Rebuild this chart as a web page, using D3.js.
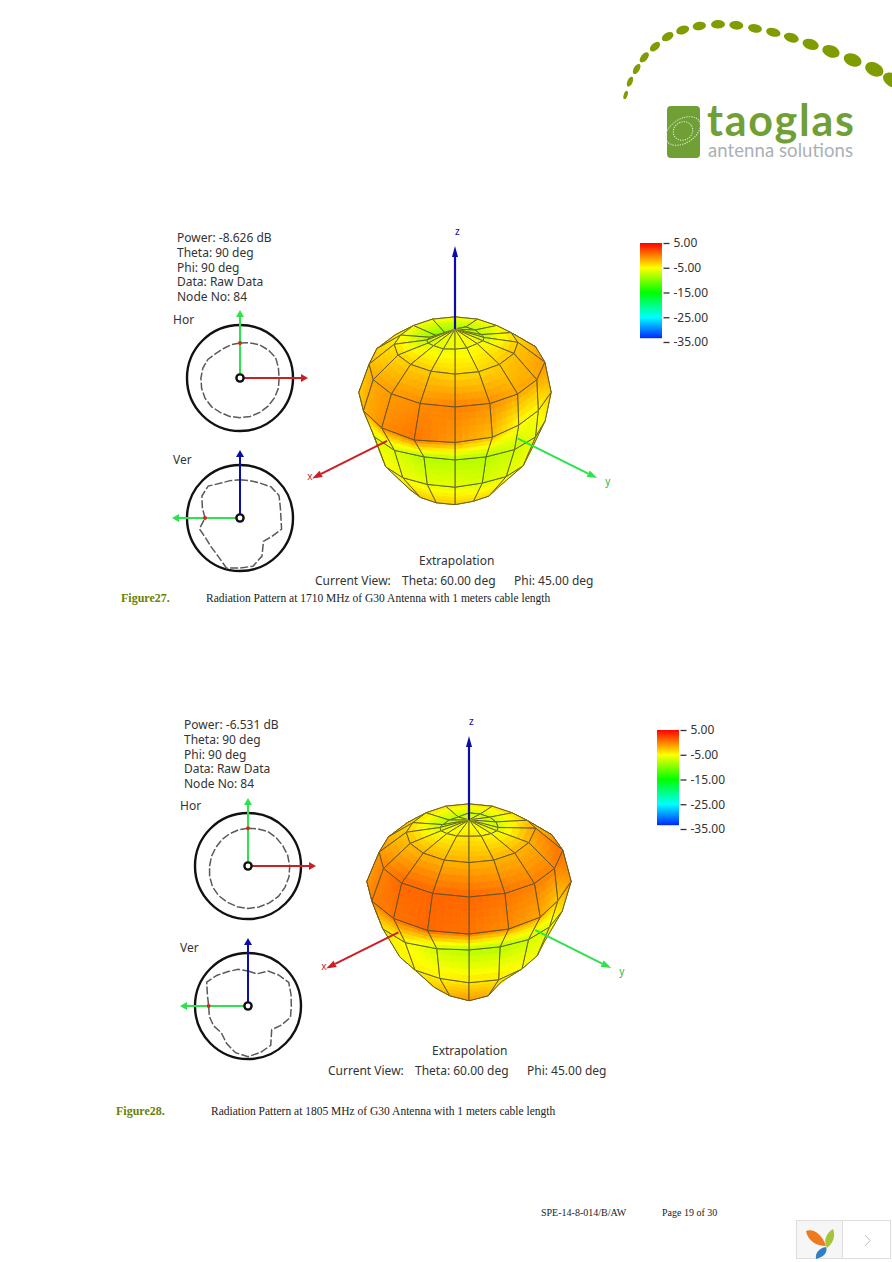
<!DOCTYPE html>
<html><head><meta charset="utf-8">
<script src="https://cdn.jsdelivr.net/npm/d3@7/dist/d3.min.js"></script>
<style>html,body{margin:0;padding:0;background:#fff}svg{display:block}</style>
</head><body><svg id="c" width="892" height="1262"></svg>
<script>
// ---------- data ----------
const colorStops = [-35,-25,-15,-5,5];
const colorRamp = ["#0000ff","#00ffff","#00ff00","#ffff00","#ff0000"];
const legendTicks = [5,-5,-15,-25,-35];
const thetaRings = [0,20,40,60,80,100,125,150,180];
const phiNodes = [0,22.5,45,67.5,90,112.5,135,157.5,180,202.5,225,247.5,270,292.5,315,337.5];
const polarAngles = [0,15,30,45,60,75,90,105,120,135,150,165,180,195,210,225,240,255,270,285,300,315,330,345];

const fig27Gain = [
 [-5.5,-5.5,-5.5,-5.5,-5.5,-5.5,-5.5,-5.5,-5.5,-5.5,-5.5,-5.5,-5.5,-5.5,-5.5,-5.5],
 [-6,-6,-5.5,-5.5,-5,-6,-7,-8,-8,-8,-9,-10,-10,-9,-8,-7],
 [-3,-3,-3.5,-3.5,-3,-2.5,-3,-4,-5,-5,-5,-5,-5,-5,-4,-3.5],
 [-1,-0.5,0,-0.5,-1.5,-1.5,-1,-2,-3,-3,-3,-3,-3,-3,-2.5,-1.5],
 [-0.5,0.5,-1,-2.5,-5,-5,-3,-3,-3,-3,-3,-3,-3,-3,-3,-2],
 [-6.5,-8,-8,-8,-7,-6,-5,-5,-5,-5,-5,-5,-5,-5,-6,-6],
 [-5.5,-6,-6,-6.5,-6,-5.5,-5,-5,-5,-5,-5,-5,-5,-5,-5,-5],
 [-3,-3,-3,-3.5,-3.5,-4,-4,-4,-4,-4,-4,-4,-4,-4,-3.5,-3],
 [-5,-5,-5,-5,-5,-5,-5,-5,-5,-5,-5,-5,-5,-5,-5,-5]
];
const fig28Gain = [
 [-5.8,-5.8,-5.8,-5.8,-5.8,-5.8,-5.8,-5.8,-5.8,-5.8,-5.8,-5.8,-5.8,-5.8,-5.8,-5.8],
 [-5,-4.5,-4,-4.5,-5,-6,-7,-7,-7,-7,-7,-8,-8,-8,-7,-6],
 [-2,-2,-2,-2,-2,-2,-1,-3,-4,-4,-4,-4,-4,-4,-3,-2.5],
 [1,1,1,0.5,0,0,0.5,-1,-2,-2,-2,-2,-2,-2,-1,0],
 [0.5,1,0.5,-0.5,-1.5,-3,-1,-2,-2,-2,-2,-2,-2,-2,-1,0],
 [-5,-7,-8,-8,-7,-6,-4,-4,-4,-4,-4,-4,-4,-4,-4,-4],
 [-4.5,-4.5,-4,-4,-5,-5.5,-5,-5,-5,-5,-5,-5,-5,-5,-5,-5],
 [-3,-2,-1,-2,-5,-6,-6,-6,-6,-6,-6,-6,-6,-6,-4,-3.5],
 [-5,-5,-5,-5,-5,-5,-5,-5,-5,-5,-5,-5,-5,-5,-5,-5]
];
const fig27Hor = [-8.6,-7.5,-6,-5,-4,-5,-5.5,-5,-5,-5,-5,-5,-5,-5,-5,-4.5,-4.5,-5,-5.5,-6,-7,-9,-9.5,-9];
const fig27Ver = [-6.1,-5.8,-4.6,-1.8,-1,-3.5,-4.1,-2.5,-7.2,-10,-1.8,2.7,2.7,4.2,-1.8,-4.2,-5,-3.3,-8.6,-5.6,-1.8,-1,-4.8,-5.8];
const fig28Hor = [-6.5,-6,-5,-4.8,-4.6,-4,-3.5,-3,-2.8,-2.5,-2.8,-3,-3,-3.2,-3.5,-3.5,-4,-5,-6,-6.5,-7,-7,-7,-6.8];
const fig28Ver = [-8.6,-9.9,-4.6,-2,0.5,-1.4,-2.3,-1.8,-6,-9.7,-0.7,1.3,3.2,1.5,-2.5,-6.5,-5,-4.8,-5.3,-3.3,1,-2.1,-5,-6.3];
const fig27Info = ["Power: -8.626 dB","Theta: 90 deg","Phi: 90 deg","Data: Raw Data","Node No: 84"];
const fig28Info = ["Power: -6.531 dB","Theta: 90 deg","Phi: 90 deg","Data: Raw Data","Node No: 84"];
const viewTheta = 60, viewPhi = 45;
const logoDots = [[47,285,4,10],[60,245,6,13],[80,207,7,14],[103,172,8,15],[135,140,9,15],[173,110,10,16],[218,90,11,17],[268,78,11,17],[324,73,11,18],[379,76,11,18],[435,85,11,18],[490,97,11,19],[544,113,12,20],[602,133,14,22],[663,154,16,24],[728,180,17,25],[793,208,18,26],[846,240,18,26]];

// ---------- helpers ----------
const svg = d3.select("#c");
const color = d3.scaleLinear().domain(colorStops).range(colorRamp).clamp(true);
const radius3d = d3.scaleLinear().domain([-35,5]).range([0,122]);
const radiusPolar = d3.scaleLinear().domain([-35,5]).range([0,53]);
const rad = d => d*Math.PI/180;
const UI = "'Noto Sans',sans-serif";

function project(thetaDeg, phiDeg, r){
  const t=rad(thetaDeg), p=rad(phiDeg), vt=rad(viewTheta), vp=rad(viewPhi);
  const x=r*Math.sin(t)*Math.cos(p), y=r*Math.sin(t)*Math.sin(p), z=r*Math.cos(t);
  return {
    x: -x*Math.sin(vp)+y*Math.cos(vp),
    y: -(-x*Math.cos(vt)*Math.cos(vp)-y*Math.cos(vt)*Math.sin(vp)+z*Math.sin(vt)),
    d: x*Math.sin(vt)*Math.cos(vp)+y*Math.sin(vt)*Math.sin(vp)+z*Math.cos(vt)
  };
}
function arrow(g,x1,y1,x2,y2,col,w,hl,hw){
  const a=Math.atan2(y2-y1,x2-x1), bx=x2-hl*Math.cos(a), by=y2-hl*Math.sin(a);
  g.append("line").attr("x1",x1).attr("y1",y1).attr("x2",bx).attr("y2",by).attr("stroke",col).attr("stroke-width",w);
  const nx=-Math.sin(a)*hw/2, ny=Math.cos(a)*hw/2;
  g.append("path").attr("d",d3.line()([[x2,y2],[bx+nx,by+ny],[bx-nx,by-ny]])+"Z").attr("fill",col);
}
const RED="#cc1f24", GREEN="#2ee24a", BLUE="#0c0ca8";

function drawMesh(g,gain){
  const n=5, quads=[];
  const P=(i,j)=>project(thetaRings[i],phiNodes[j%16],radius3d(gain[i][j%16]));
  for(let i=0;i<thetaRings.length-1;i++) for(let j=0;j<16;j++){
    const c=[P(i,j),P(i,j+1),P(i+1,j+1),P(i+1,j)];
    const v=[gain[i][j],gain[i][(j+1)%16],gain[i+1][(j+1)%16],gain[i+1][j]];
    quads.push({c,v,d:d3.mean(c,q=>q.d)});
  }
  quads.sort((a,b)=>a.d-b.d);
  const bil=(a,b,c,d,u,w)=>(a*(1-u)+b*u)*(1-w)+(d*(1-u)+c*u)*w;
  quads.forEach(q=>{
    const qg=g.append("g"), [a,b,c,d]=q.c, cells=[];
    for(let k=0;k<n;k++) for(let l=0;l<n;l++){
      const pt=(u,w)=>[bil(a.x,b.x,c.x,d.x,u,w),bil(a.y,b.y,c.y,d.y,u,w)];
      const val=bil(q.v[0],q.v[1],q.v[2],q.v[3],(k+.5)/n,(l+.5)/n);
      cells.push({p:[pt(k/n,l/n),pt((k+1)/n,l/n),pt((k+1)/n,(l+1)/n),pt(k/n,(l+1)/n)],val});
    }
    qg.selectAll("path").data(cells).join("path")
      .attr("d",e=>d3.line()(e.p)+"Z").attr("fill",e=>color(e.val)).attr("stroke",e=>color(e.val)).attr("stroke-width",.6);
    qg.append("path").attr("d",d3.line()(q.c.map(e=>[e.x,e.y]))+"Z").attr("fill","none").attr("stroke","#55502a").attr("stroke-width",.9);
  });
}
function surfaceR(gain,phi){
  const j=phiNodes.indexOf(phi), i=thetaRings.indexOf(80), k=thetaRings.indexOf(100);
  return radius3d((gain[i][j]+gain[k][j])/2);
}
function drawPolar(g,vals,arms,marker){
  g.append("circle").attr("r",53).attr("fill","#fff").attr("stroke","#111").attr("stroke-width",2.4);
  const line=d3.lineRadial().angle(d=>rad(d.a)).radius(d=>radiusPolar(d.v)).curve(d3.curveLinearClosed);
  g.append("path").attr("d",line(vals.map((v,i)=>({a:polarAngles[i],v})))).attr("fill","none")
    .attr("stroke","#5a5a5a").attr("stroke-width",1.5).attr("stroke-dasharray","8 2.2");
  arms.forEach(a=>arrow(g,a[0]*4,a[1]*4,a[0]*68,a[1]*68,a[2],2,7,8));
  g.append("circle").attr("cx",marker[0]).attr("cy",marker[1]).attr("r",2).attr("fill","#d22");
  g.append("circle").attr("r",3.6).attr("fill","#fff").attr("stroke","#111").attr("stroke-width",2.4);
}
function panel(o){
  const t=svg.append("g").attr("font-family",UI).attr("font-size",12).attr("fill","#333");
  t.selectAll("text.i").data(o.info).join("text").attr("class","i")
    .attr("x",o.tx).attr("y",(d,i)=>o.ty+i*14.75).text(d=>d);
  t.append("text").attr("x",o.tx-4).attr("y",o.hy).text("Hor");
  t.append("text").attr("x",o.tx-4).attr("y",o.vy).text("Ver");
  drawPolar(svg.append("g").attr("transform",`translate(${o.px},${o.hcy})`),o.hor,[[0,-1,GREEN],[1,0,RED]],[0,-radiusPolar(o.hor[0])]);
  drawPolar(svg.append("g").attr("transform",`translate(${o.px},${o.vcy})`),o.ver,[[0,-1,BLUE],[-1,0,GREEN]],[-radiusPolar(o.ver[18]),0]);
  // 3D
  const m=svg.append("g").attr("transform",`translate(${o.cx},${o.cy})`);
  drawMesh(m,o.gain);
  const e=(ph,r)=>project(90,ph,r);
  const xs=e(0,surfaceR(o.gain,0)), xe=e(0,202), ys=e(90,surfaceR(o.gain,90)), ye=e(90,201);
  const zs=project(0,0,radius3d(o.gain[0][0])), ze=project(0,0,186);
  arrow(m,xs.x,xs.y,xe.x,xe.y,RED,2,10,7);
  arrow(m,ys.x,ys.y,ye.x,ye.y,GREEN,2,10,7);
  arrow(m,zs.x,zs.y,ze.x,ze.y,BLUE,2.2,11,6);
  m.append("text").attr("x",xe.x-5).attr("y",xe.y+2).attr("font-family",UI).attr("font-size",10).attr("fill",RED).text("x");
  m.append("text").attr("x",ye.x+8).attr("y",ye.y+7).attr("font-family",UI).attr("font-size",10).attr("fill","#1fb83a").text("y");
  m.append("text").attr("x",ze.x+0).attr("y",ze.y-11).attr("font-family",UI).attr("font-size",10).attr("fill",BLUE).text("z");
  // legend
  const ly=d3.scaleLinear().domain([5,-35]).range([o.ly,o.ly+99]);
  const leg=svg.append("g");
  const rows=d3.range(o.ly,o.ly+95);
  leg.selectAll("rect").data(rows).join("rect").attr("x",o.lx).attr("y",d=>d).attr("width",22).attr("height",1.2)
    .attr("fill",d=>color(ly.invert(d+.5*99/95)*1.0));
  const ax=svg.append("g").attr("transform",`translate(${o.lx+22.5},0)`)
    .call(d3.axisRight(ly).tickValues(legendTicks).tickSize(0).tickPadding(11).tickFormat(d=>d.toFixed(2)));
  ax.select(".domain").remove();
  ax.selectAll("text").attr("font-family",UI).attr("font-size",12).attr("fill","#333");
  ax.selectAll(".tick").append("line").attr("x1",1).attr("x2",7).attr("stroke","#333").attr("stroke-width",1.3);
  // footer texts
  t.append("text").attr("x",o.fx+104).attr("y",o.fy).text("Extrapolation");
  t.append("text").attr("x",o.fx).attr("y",o.fy+20).text("Current View:");
  t.append("text").attr("x",o.fx+87).attr("y",o.fy+20).text("Theta: "+viewTheta.toFixed(2)+" deg");
  t.append("text").attr("x",o.fx+199).attr("y",o.fy+20).text("Phi: "+viewPhi.toFixed(2)+" deg");
  // caption
  const c=svg.append("g").attr("font-family","'Liberation Serif',serif");
  c.append("text").attr("x",o.capx).attr("y",o.capy).attr("font-size",12).attr("font-weight","bold").attr("fill","#6b8200").text(o.fig);
  c.append("text").attr("x",o.capx2).attr("y",o.capy).attr("font-size",11.5).attr("fill","#222").text(o.cap);
}
panel({info:fig27Info,tx:177,ty:242,hy:324,vy:464,px:240,hcy:378,vcy:518,hor:fig27Hor,ver:fig27Ver,cx:455,cy:407,gain:fig27Gain,lx:640,ly:243,fx:315,fy:565,capx:121,capx2:206,capy:602,fig:"Figure27.",cap:"Radiation Pattern at 1710 MHz of G30 Antenna with 1 meters cable length"});
panel({info:fig28Info,tx:184,ty:729,hy:810,vy:952,px:248,hcy:866,vcy:1006,hor:fig28Hor,ver:fig28Ver,cx:469,cy:897,gain:fig28Gain,lx:657,ly:730,fx:328,fy:1055,capx:116,capx2:211,capy:1115,fig:"Figure28.",cap:"Radiation Pattern at 1805 MHz of G30 Antenna with 1 meters cable length"});

// logo
const logo=svg.append("g");
logo.selectAll("ellipse").data(logoDots).join("ellipse")
  .attr("transform",d=>{const i=logoDots.indexOf(d);const a=logoDots[Math.max(0,i-1)],b=logoDots[Math.min(logoDots.length-1,i+1)];
    return `translate(${610+d[0]/3},${d[1]/3}) rotate(${Math.atan2(b[1]-a[1],b[0]-a[0])*180/Math.PI})`;})
  .attr("rx",d=>d[3]/3+1).attr("ry",d=>d[2]/3+.6).attr("fill","#7f9c00");
logo.append("rect").attr("x",667).attr("y",106).attr("width",33).attr("height",52).attr("rx",4).attr("fill","#70a035");
[[22,9,1],[13,6,1]].forEach(e=>logo.append("ellipse").attr("cx",683).attr("cy",131).attr("rx",e[0]-3).attr("ry",e[1]+3)
  .attr("transform","rotate(-32 683 131)").attr("fill","none").attr("stroke","#dfeccf").attr("stroke-width",1.1).attr("stroke-dasharray","1.2 1.2"));
logo.append("text").attr("x",707).attr("y",136).attr("font-family","Lato,sans-serif").attr("font-weight",700).attr("font-size",43).attr("fill","#70a035").attr("textLength",147).text("taoglas");
logo.append("text").attr("x",708).attr("y",157).attr("font-family","Lato,sans-serif").attr("font-size",18.5).attr("fill","#a9b1b5").attr("textLength",145).text("antenna solutions");

// footer
const foot=svg.append("g").attr("font-family","'Liberation Serif',serif").attr("font-size",10).attr("fill","#222");
foot.append("text").attr("x",541).attr("y",1216).text("SPE-14-8-014/B/AW");
foot.append("text").attr("x",662).attr("y",1216).text("Page 19 of 30");

// pager widget
const pg=svg.append("g");
pg.append("rect").attr("x",796.5).attr("y",1220.5).attr("width",46).attr("height",38).attr("fill","#f6f6f6").attr("stroke","#ddd");
pg.append("rect").attr("x",842.5).attr("y",1220.5).attr("width",48).attr("height",38).attr("fill","#fff").attr("stroke","#ddd");
pg.append("path").attr("d","M806 1231 C813 1228 822 1234 826 1246 C818 1246 808 1242 806 1231Z").attr("fill","#ec7a1f");
pg.append("path").attr("d","M833 1229 C836 1236 833 1243 827 1248 C823 1241 826 1233 833 1229Z").attr("fill","#a4c43a");
pg.append("path").attr("d","M826 1247 C828 1252 824 1257 816 1259 C815 1253 819 1248 826 1247Z").attr("fill","#2f7fc4");
pg.append("path").attr("d","M865 1235 L870 1240.5 L865 1246").attr("fill","none").attr("stroke","#bbb").attr("stroke-width",1);
</script></body></html>
